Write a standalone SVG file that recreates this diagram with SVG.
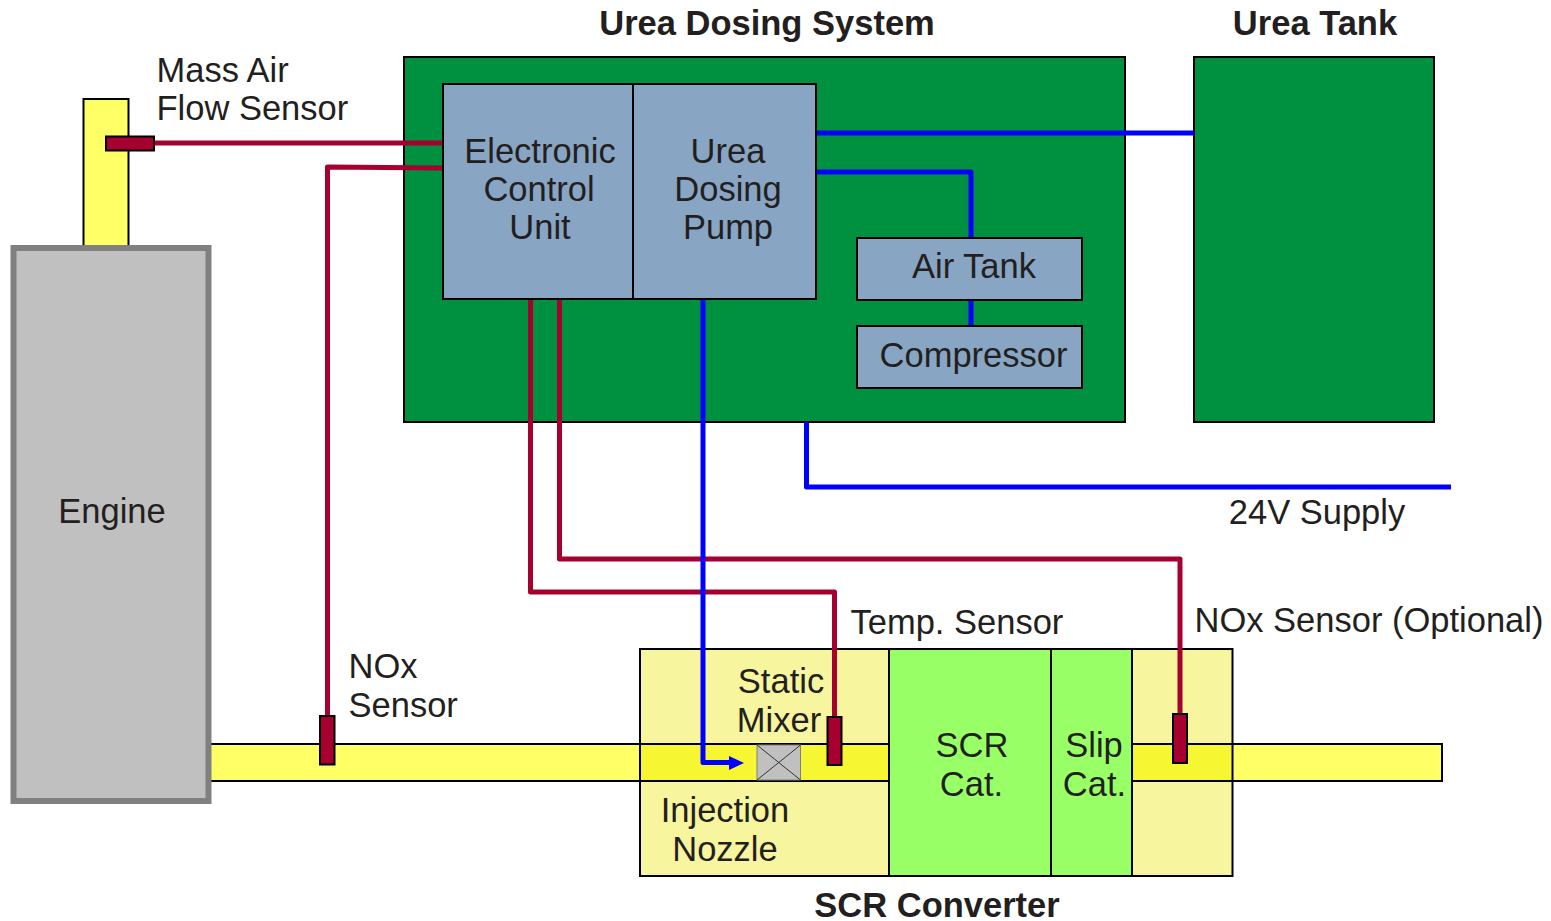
<svg xmlns="http://www.w3.org/2000/svg" width="1551" height="921" viewBox="0 0 1551 921">
<style>
text{font-family:"Liberation Sans",Arial,sans-serif;font-size:34.500px;fill:#231f20;text-anchor:middle}
.b{font-weight:bold}
.l{text-anchor:start}
.box{stroke:#000;stroke-width:2}
.blue{fill:#88a6c4}
.green{fill:#009140}
.pipe{fill:#ffff66}
.pale{fill:#f7f59e}
.lime{fill:#99ff66}
.sens{fill:#a50030;stroke:#000;stroke-width:2}
.red{fill:none;stroke:#a50030;stroke-width:5;stroke-linejoin:round}
.bl{fill:none;stroke:#0000ff;stroke-width:5;stroke-linejoin:round}
</style>
<g id="intake"><rect class="box pipe" x="83.500" y="99" width="45" height="148"/></g>
<g id="exhaust"><rect class="box pipe" x="205" y="744" width="1237" height="37"/></g>
<g id="scr-converter">
<rect class="box pale" x="640" y="649" width="249" height="227"/>
<rect x="641" y="745" width="247" height="35" fill="#f6f633"/>
<path d="M640 744H889M640 781H889" stroke="#000" stroke-width="2" fill="none"/>
<rect class="box pale" x="1132" y="649" width="100.500" height="227"/>
<rect x="1133" y="745" width="98" height="35" fill="#f6f633"/>
<path d="M1132 744H1232M1132 781H1232" stroke="#000" stroke-width="2" fill="none"/>
<text x="937" y="917" class="b">SCR Converter</text>
</g>
<g id="engine"><rect x="13.500" y="248" width="195" height="553" fill="#c0c0c0" stroke="#808080" stroke-width="6"/><text x="112" y="523">Engine</text></g>
<g id="urea-dosing-system"><rect class="box green" x="404" y="57" width="721" height="365"/><text x="767" y="35" class="b">Urea Dosing System</text></g>
<g id="urea-tank"><rect class="box green" x="1194" y="57" width="240" height="365"/><text x="1315" y="35" class="b">Urea Tank</text></g>
<g id="scr-cat"><rect class="box lime" x="889" y="649" width="162" height="227"/><text x="972" y="757">SCR</text><text x="971.500" y="796">Cat.</text></g>
<g id="slip-cat"><rect class="box lime" x="1051" y="649" width="81" height="227"/><text x="1094" y="757">Slip</text><text x="1094.500" y="796">Cat.</text></g>
<g id="connectors">
<path class="red" d="M155 143H443"/>
<path class="red" d="M443 168L327.500 167V716"/>
<path class="red" d="M530.500 299V592H834.500V717"/>
<path class="red" d="M559.500 299V559H1180V714"/>
<path class="bl" d="M816 133H1194"/>
<path class="bl" d="M816 172H971V238"/>
<path class="bl" d="M971 300V326"/>
<path class="bl" d="M806.500 422V487H1451"/>
<path class="bl" d="M703 299V762.500H730"/>
<polygon points="729,756 729,770 744,763" fill="#0000ff"/>
</g>
<g id="ecu"><rect class="box blue" x="443" y="84" width="190" height="215"/><text x="540" y="163">Electronic</text><text x="539" y="201">Control</text><text x="540" y="239">Unit</text></g>
<g id="pump"><rect class="box blue" x="633" y="84" width="183" height="215"/><text x="728" y="163">Urea</text><text x="728" y="201">Dosing</text><text x="728" y="239">Pump</text></g>
<g id="air-tank"><rect class="box blue" x="857" y="238" width="225" height="62"/><text x="974" y="278">Air Tank</text></g>
<g id="compressor"><rect class="box blue" x="857" y="326" width="225" height="62"/><text x="973.500" y="367">Compressor</text></g>
<g id="maf-sensor"><rect class="sens" x="106" y="136.500" width="48" height="14"/><text class="l" x="156.500" y="82">Mass Air</text><text class="l" x="156.500" y="120">Flow Sensor</text></g>
<g id="nox-sensor"><rect class="sens" x="320" y="716" width="14.500" height="48.500"/><text class="l" x="348.500" y="678">NOx</text><text class="l" x="348.500" y="717">Sensor</text></g>
<g id="static-mixer"><rect x="757" y="745" width="43.500" height="35" fill="#c0c0c0" stroke="#808080" stroke-width="1"/><path d="M757 780L800.500 745M757 745L800.500 780" stroke="#333" stroke-width="1" fill="none"/><text x="781" y="693">Static</text><text x="779" y="732">Mixer</text></g>
<g id="temp-sensor"><rect class="sens" x="827.500" y="717" width="14" height="48"/><text class="l" x="850.500" y="634">Temp. Sensor</text></g>
<g id="nox-optional"><rect class="sens" x="1173" y="714" width="14" height="49"/><text class="l" x="1194.500" y="632">NOx Sensor (Optional)</text></g>
<g id="nozzle"><text x="725" y="822">Injection</text><text x="725" y="861">Nozzle</text></g>
<g id="supply"><text x="1317" y="524">24V Supply</text></g>
</svg>
